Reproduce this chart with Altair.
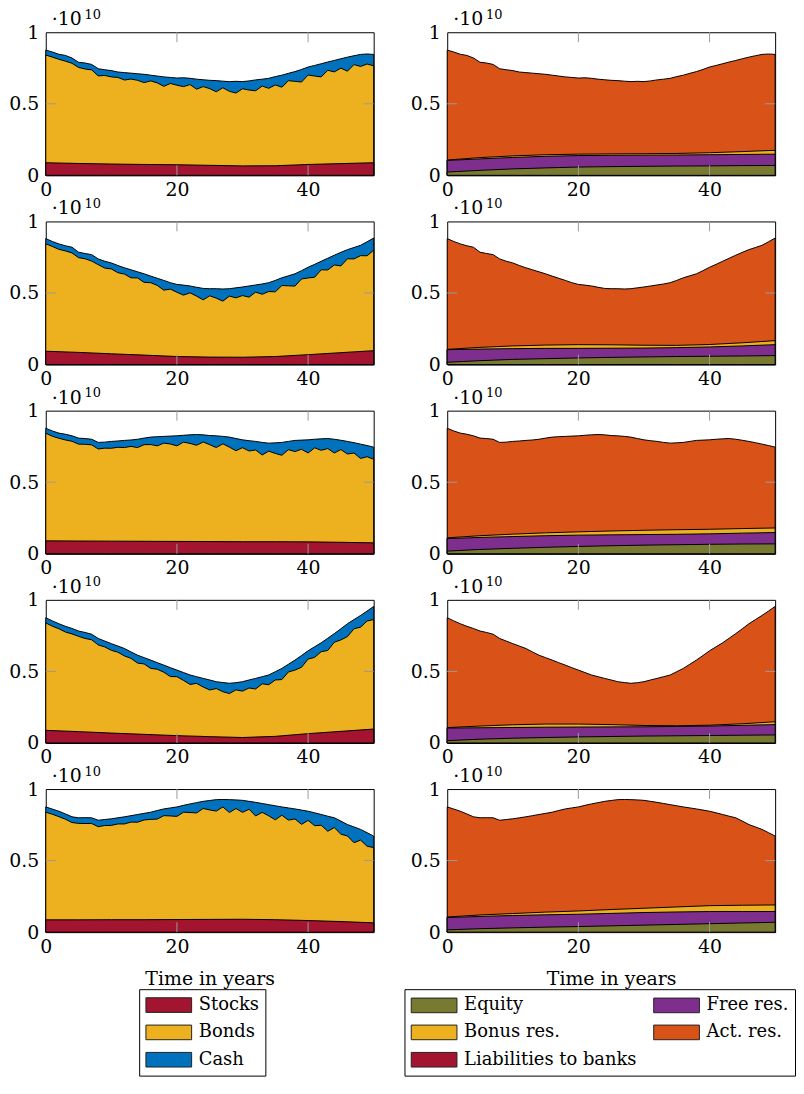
import altair as alt
import pandas as pd

# ---------------- data (units of 1e10) ----------------
years = list(range(0, 51))
years_5 = list(range(0, 51, 5))

total_1 = [0.875, 0.862, 0.846, 0.838, 0.82, 0.79, 0.785, 0.775, 0.745, 0.738,
           0.732, 0.722, 0.718, 0.714, 0.71, 0.706, 0.7, 0.694, 0.688, 0.684,
           0.68, 0.682, 0.678, 0.672, 0.668, 0.664, 0.662, 0.658, 0.655, 0.657,
           0.655, 0.66, 0.667, 0.672, 0.678, 0.69, 0.7, 0.713, 0.725, 0.74,
           0.757, 0.768, 0.78, 0.792, 0.803, 0.815, 0.826, 0.836, 0.845, 0.848, 0.845]
total_2 = [0.88, 0.86, 0.843, 0.83, 0.82, 0.785, 0.776, 0.768, 0.738, 0.722,
           0.71, 0.692, 0.676, 0.662, 0.648, 0.634, 0.618, 0.603, 0.588, 0.572,
           0.56, 0.555, 0.549, 0.54, 0.532, 0.53, 0.53, 0.528, 0.53, 0.536,
           0.542, 0.549, 0.556, 0.563, 0.572, 0.588, 0.606, 0.62, 0.634, 0.656,
           0.68, 0.7, 0.722, 0.743, 0.764, 0.784, 0.803, 0.818, 0.833, 0.858, 0.884]
total_3 = [0.877, 0.858, 0.843, 0.835, 0.824, 0.808, 0.805, 0.8, 0.778, 0.78,
           0.785, 0.788, 0.792, 0.795, 0.8, 0.808, 0.815, 0.818, 0.82, 0.822,
           0.824, 0.828, 0.831, 0.833, 0.831, 0.826, 0.824, 0.82, 0.815, 0.805,
           0.796, 0.79, 0.785, 0.778, 0.773, 0.775, 0.778, 0.785, 0.792, 0.794,
           0.796, 0.8, 0.803, 0.805, 0.8, 0.793, 0.785, 0.776, 0.766, 0.756, 0.745]
total_4 = [0.875, 0.853, 0.833, 0.815, 0.8, 0.782, 0.772, 0.76, 0.73, 0.712,
           0.694, 0.677, 0.66, 0.636, 0.613, 0.596, 0.579, 0.561, 0.544, 0.526,
           0.509, 0.492, 0.475, 0.463, 0.451, 0.44, 0.428, 0.422, 0.417, 0.421,
           0.428, 0.44, 0.451, 0.463, 0.475, 0.498, 0.521, 0.55, 0.579, 0.611,
           0.644, 0.672, 0.70, 0.732, 0.764, 0.798, 0.833, 0.862, 0.891, 0.922, 0.954]
total_5 = [0.875, 0.86, 0.845, 0.826, 0.806, 0.799, 0.8, 0.799, 0.782, 0.787,
           0.792, 0.799, 0.806, 0.814, 0.822, 0.83, 0.838, 0.85, 0.861, 0.868,
           0.875, 0.886, 0.896, 0.905, 0.914, 0.92, 0.926, 0.927, 0.926, 0.924,
           0.921, 0.914, 0.907, 0.899, 0.891, 0.883, 0.875, 0.868, 0.861, 0.853,
           0.845, 0.834, 0.822, 0.81, 0.799, 0.776, 0.752, 0.735, 0.718, 0.695, 0.671]

cash_1 = [0.034, 0.036, 0.035, 0.04, 0.037, 0.036, 0.042, 0.038, 0.05, 0.04,
          0.044, 0.038, 0.052, 0.041, 0.046, 0.058, 0.04, 0.048, 0.066, 0.042,
          0.05, 0.062, 0.044, 0.07, 0.048, 0.058, 0.078, 0.046, 0.068, 0.082,
          0.05, 0.064, 0.076, 0.048, 0.07, 0.058, 0.084, 0.052, 0.068, 0.088,
          0.056, 0.074, 0.092, 0.058, 0.08, 0.066, 0.098, 0.062, 0.084, 0.07, 0.08]
cash_2 = [0.036, 0.035, 0.038, 0.036, 0.04, 0.038, 0.037, 0.045, 0.04, 0.048,
          0.042, 0.05, 0.044, 0.056, 0.043, 0.06, 0.046, 0.05, 0.068, 0.045,
          0.055, 0.07, 0.048, 0.062, 0.08, 0.05, 0.066, 0.085, 0.052, 0.07,
          0.06, 0.078, 0.05, 0.072, 0.062, 0.08, 0.054, 0.07, 0.086, 0.058,
          0.075, 0.09, 0.06, 0.082, 0.068, 0.095, 0.064, 0.08, 0.072, 0.098, 0.085]
cash_3 = [0.035, 0.037, 0.036, 0.04, 0.038, 0.042, 0.04, 0.039, 0.046, 0.042,
          0.048, 0.044, 0.05, 0.045, 0.058, 0.046, 0.052, 0.064, 0.047, 0.055,
          0.07, 0.048, 0.06, 0.075, 0.05, 0.064, 0.082, 0.052, 0.07, 0.085,
          0.055, 0.072, 0.06, 0.088, 0.056, 0.074, 0.09, 0.058, 0.078, 0.064,
          0.092, 0.06, 0.08, 0.07, 0.096, 0.065, 0.088, 0.072, 0.1, 0.078, 0.085]
cash_4 = [0.036, 0.037, 0.035, 0.04, 0.038, 0.037, 0.042, 0.039, 0.045, 0.041,
          0.047, 0.043, 0.052, 0.045, 0.055, 0.044, 0.058, 0.046, 0.05, 0.062,
          0.046, 0.055, 0.066, 0.047, 0.06, 0.07, 0.048, 0.064, 0.072, 0.05,
          0.066, 0.056, 0.074, 0.05, 0.068, 0.058, 0.078, 0.054, 0.07, 0.082,
          0.058, 0.074, 0.062, 0.086, 0.06, 0.078, 0.09, 0.064, 0.082, 0.07, 0.092]
cash_5 = [0.037, 0.036, 0.038, 0.037, 0.04, 0.039, 0.041, 0.04, 0.045, 0.042,
          0.046, 0.043, 0.05, 0.045, 0.054, 0.046, 0.05, 0.06, 0.047, 0.056,
          0.066, 0.048, 0.06, 0.072, 0.05, 0.066, 0.08, 0.052, 0.09, 0.06,
          0.084, 0.055, 0.095, 0.062, 0.078, 0.098, 0.058, 0.085, 0.07, 0.1,
          0.064, 0.09, 0.075, 0.105, 0.068, 0.092, 0.08, 0.11, 0.075, 0.095, 0.08]

stocks_1 = [0.088, 0.083, 0.079, 0.076, 0.074, 0.07, 0.066, 0.067, 0.076, 0.082, 0.088]
stocks_2 = [0.093, 0.085, 0.075, 0.066, 0.056, 0.052, 0.051, 0.056, 0.069, 0.083, 0.097]
stocks_3 = [0.09, 0.089, 0.088, 0.087, 0.086, 0.085, 0.084, 0.084, 0.083, 0.08, 0.076]
stocks_4 = [0.088, 0.079, 0.069, 0.06, 0.051, 0.044, 0.038, 0.046, 0.065, 0.081, 0.097]
stocks_5 = [0.086, 0.086, 0.087, 0.087, 0.088, 0.089, 0.09, 0.087, 0.081, 0.074, 0.065]

# cumulative tops on the liabilities side
equity_1 = [0.023, 0.035, 0.045, 0.052, 0.058, 0.061, 0.063, 0.065, 0.066, 0.068, 0.069]
equity_2 = [0.016, 0.027, 0.036, 0.041, 0.046, 0.05, 0.053, 0.056, 0.058, 0.06, 0.0625]
equity_3 = [0.0185, 0.03, 0.038, 0.045, 0.051, 0.056, 0.06, 0.063, 0.066, 0.068, 0.069]
equity_4 = [0.016, 0.026, 0.033, 0.038, 0.042, 0.045, 0.048, 0.05, 0.052, 0.054, 0.056]
equity_5 = [0.016, 0.024, 0.03, 0.035, 0.039, 0.044, 0.049, 0.054, 0.059, 0.064, 0.069]

free_top_1 = [0.104, 0.115, 0.125, 0.133, 0.138, 0.14, 0.141, 0.142, 0.144, 0.146, 0.148]
free_top_2 = [0.104, 0.108, 0.111, 0.113, 0.113, 0.114, 0.115, 0.118, 0.123, 0.13, 0.139]
free_top_3 = [0.106, 0.114, 0.12, 0.126, 0.13, 0.132, 0.134, 0.136, 0.139, 0.144, 0.148]
free_top_4 = [0.104, 0.106, 0.108, 0.11, 0.111, 0.112, 0.113, 0.115, 0.118, 0.123, 0.128]
free_top_5 = [0.102, 0.11, 0.116, 0.121, 0.125, 0.131, 0.137, 0.141, 0.144, 0.144, 0.144]

bonus_top_1 = [0.107, 0.124, 0.136, 0.144, 0.148, 0.15, 0.151, 0.153, 0.158, 0.166, 0.175]
bonus_top_2 = [0.106, 0.12, 0.13, 0.136, 0.139, 0.138, 0.135, 0.134, 0.14, 0.152, 0.167]
bonus_top_3 = [0.111, 0.126, 0.137, 0.146, 0.153, 0.159, 0.164, 0.168, 0.171, 0.176, 0.18]
bonus_top_4 = [0.107, 0.118, 0.127, 0.132, 0.132, 0.128, 0.122, 0.12, 0.124, 0.134, 0.148]
bonus_top_5 = [0.106, 0.12, 0.13, 0.14, 0.148, 0.158, 0.167, 0.176, 0.185, 0.188, 0.19]

totals = [total_1, total_2, total_3, total_4, total_5]
cashes = [cash_1, cash_2, cash_3, cash_4, cash_5]
stocks = [stocks_1, stocks_2, stocks_3, stocks_4, stocks_5]
equities = [equity_1, equity_2, equity_3, equity_4, equity_5]
free_tops = [free_top_1, free_top_2, free_top_3, free_top_4, free_top_5]
bonus_tops = [bonus_top_1, bonus_top_2, bonus_top_3, bonus_top_4, bonus_top_5]

left_names = ["Stocks", "Bonds", "Cash"]
left_colors = ["#A2142F", "#EDB120", "#0072BD"]
right_names = ["Equity", "Free res.", "Bonus res.", "Act. res.", "Liabilities to banks"]
right_colors = ["#777A30", "#7E2F8E", "#EDB120", "#D95319", "#A2142F"]

x_ticks = [0, 20, 40]
y_ticks = [0, 0.5, 1]
inner_x_ticks = [20, 40]
inner_y_ticks = [0.5]
scale_text = ["·10"]
scale_exp = ["10"]

# ---------------- styling ----------------
FONT = "DejaVu Serif"
FS = 19
LFS = 18
W, H = 330, 144
TL = 10
GRAY = "#9a9a9a"
# legend swatch 46 x 15 px, starting at the entry's left edge
SYM = "M-1,-0.8H4V0.8H-1Z"
SYM_SIZE = 338.6  # (2 * 9.2) ** 2

legend_common = dict(
    title=None, orient="none", symbolType=SYM, symbolSize=SYM_SIZE,
    symbolStrokeColor="#222", symbolStrokeWidth=1, symbolOpacity=1,
    labelFont=FONT, labelFontSize=LFS, labelColor="black", labelOffset=34,
    labelLimit=400, rowPadding=7.5, padding=6, strokeColor="black",
    fillColor="white", cornerRadius=0,
)
left_legend = alt.Legend(legendX=94, legendY=963, direction="vertical",
                         **legend_common)
right_legend = alt.Legend(legendX=361, legendY=963, direction="horizontal",
                          columns=2, columnPadding=14, **legend_common)
left_scale = alt.Scale(domain=left_names, range=left_colors)
right_scale = alt.Scale(domain=right_names, range=right_colors)

x_scale = alt.Scale(domain=[0, 50], nice=False, zero=False)
y_scale = alt.Scale(domain=[0, 1], nice=False)


def x_enc(bottom):
    return alt.X("t:Q", scale=x_scale, axis=alt.Axis(
        values=x_ticks, format="d", labelFlush=False, labelOverlap=False,
        labelPadding=5, title="Time in years" if bottom else None, titlePadding=14))


def y_enc():
    return alt.Y("v:Q", scale=y_scale, axis=alt.Axis(
        values=y_ticks, format="~g", labelFlush=False, labelPadding=7,
        title=None))


def decorations(bottom):
    dx = pd.DataFrame({"t": inner_x_ticks})
    dy = pd.DataFrame({"v": inner_y_ticks})
    rule = dict(color=GRAY, strokeWidth=1)
    return [
        alt.Chart(dx).mark_rule(**rule).encode(x=x_enc(bottom), y=alt.value(0), y2=alt.value(TL)),
        alt.Chart(dx).mark_rule(**rule).encode(x=x_enc(bottom), y=alt.value(H - TL), y2=alt.value(H)),
        alt.Chart(dy).mark_rule(**rule).encode(y=y_enc(), x=alt.value(0), x2=alt.value(TL)),
        alt.Chart(dy).mark_rule(**rule).encode(y=y_enc(), x=alt.value(W - TL), x2=alt.value(W)),
        alt.Chart(pd.DataFrame({"s": scale_text})).mark_text(
            font=FONT, fontSize=FS, align="left", baseline="alphabetic", color="black"
        ).encode(text="s:N", x=alt.value(6), y=alt.value(-7)),
        alt.Chart(pd.DataFrame({"s": scale_exp})).mark_text(
            font=FONT, fontSize=13, align="left", baseline="alphabetic", color="black"
        ).encode(text="s:N", x=alt.value(39), y=alt.value(-13.5)),
    ]


def area_layer(df, bottom, channel):
    if channel == "fill":
        col = alt.Fill("series:N", scale=left_scale, legend=left_legend)
    else:
        col = alt.Color("series:N", scale=right_scale, legend=right_legend)
    return alt.Chart(df).mark_area(opacity=1, stroke="black", strokeWidth=1,
                                   strokeJoin="round").encode(
        x=x_enc(bottom), y=y_enc(), **{channel: col})


def left_panel(i, bottom):
    tot = totals[i]
    bonds_top = [round(a - c, 4) for a, c in zip(tot, cashes[i])]
    d1 = pd.DataFrame({"t": years, "v": tot, "series": "Cash"})
    d2 = pd.DataFrame({"t": years, "v": bonds_top, "series": "Bonds"})
    d3 = pd.DataFrame({"t": years_5, "v": stocks[i], "series": "Stocks"})
    layers = [area_layer(d, bottom, "fill") for d in (d1, d2, d3)] + decorations(bottom)
    return alt.layer(*layers).properties(width=W, height=H)


def right_panel(i, bottom):
    d1 = pd.DataFrame({"t": years, "v": totals[i], "series": "Act. res."})
    d2 = pd.DataFrame({"t": years_5, "v": bonus_tops[i], "series": "Bonus res."})
    d3 = pd.DataFrame({"t": years_5, "v": free_tops[i], "series": "Free res."})
    d4 = pd.DataFrame({"t": years_5, "v": equities[i], "series": "Equity"})
    layers = [area_layer(d, bottom, "color") for d in (d1, d2, d3, d4)] + decorations(bottom)
    return alt.layer(*layers).properties(width=W, height=H)


panels = []
for i in range(5):
    bottom = i == 4
    panels.append(left_panel(i, bottom))
    panels.append(right_panel(i, bottom))

chart = alt.concat(*panels, columns=2, spacing={"row": 46.4, "column": 74},
                   bounds="flush").properties(
    padding={"left": 0, "top": -3, "right": 0, "bottom": 0}
).configure_view(stroke="black", strokeWidth=1).configure_axis(
    domain=False, ticks=False, grid=False, labelFont=FONT, labelFontSize=FS,
    labelColor="black", titleFont=FONT, titleFontSize=FS, titleFontWeight="normal",
    titleColor="black"
)

chart.save("out.html", embed_options={"renderer": "svg", "actions": False})
